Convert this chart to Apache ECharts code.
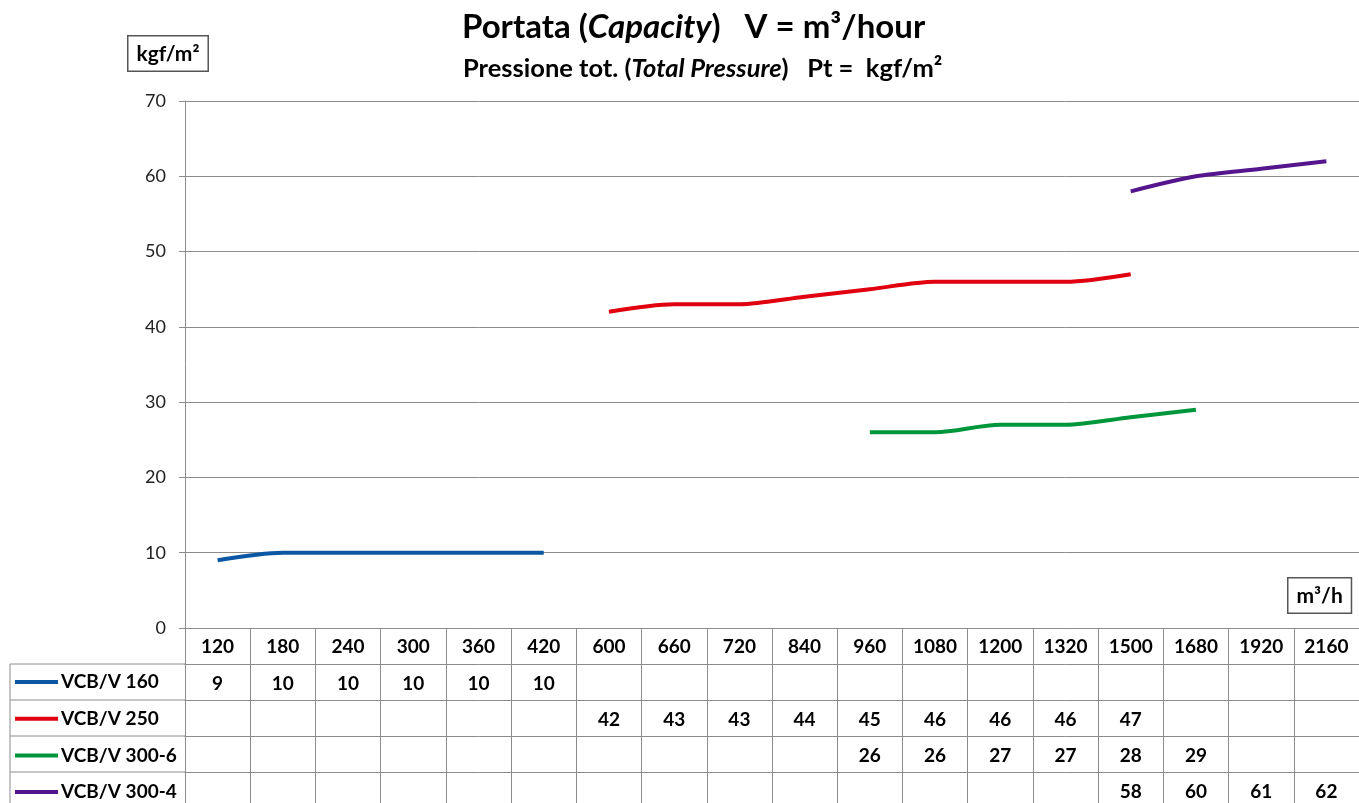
<!DOCTYPE html>
<html>
<head>
<meta charset="utf-8">
<script src="https://cdn.jsdelivr.net/npm/echarts@6/dist/echarts.min.js"></script>
<style>html,body{margin:0;padding:0;background:#fff}#c{width:1359px;height:803px}</style>
</head>
<body>
<div id="c"></div>
<script>
const categories = ['120','180','240','300','360','420','600','660','720','840','960','1080','1200','1320','1500','1680','1920','2160'];
const seriesNames = ['VCB/V 160','VCB/V 250','VCB/V 300-6','VCB/V 300-4'];
const vcb160  = [9,10,10,10,10,10,null,null,null,null,null,null,null,null,null,null,null,null];
const vcb250  = [null,null,null,null,null,null,42,43,43,44,45,46,46,46,47,null,null,null];
const vcb3006 = [null,null,null,null,null,null,null,null,null,null,26,26,27,27,28,29,null,null];
const vcb3004 = [null,null,null,null,null,null,null,null,null,null,null,null,null,null,58,60,61,62];
const yTicks = { min: 0, max: 70, interval: 10 };
const colors = ['#0b57a4','#e0000f','#00963c','#55158c'];
const rows = [vcb160, vcb250, vcb3006, vcb3004];

const FONT = 'Lato';
const GRID_LEFT = 185, GRID_TOP = 101, GRID_BOTTOM = 175, GRID_W = 1182;
const ROW_H = 36;
const GRAY = '#8c8c8c';

const xAxes = [{
  type: 'category', data: categories, boundaryGap: true, position: 'bottom', gridIndex: 0,
  axisLine: { show: true, lineStyle: { color: GRAY, width: 1 } },
  axisTick: { show: true, length: ROW_H, interval: 0, lineStyle: { color: GRAY, width: 1 } },
  axisLabel: { interval: 0, margin: 9, fontFamily: FONT, fontWeight: 'bold', fontSize: 19, color: '#000' },
  splitLine: { show: false }
}];
rows.forEach((r, k) => {
  xAxes.push({
    type: 'category', data: categories, boundaryGap: true, position: 'bottom', gridIndex: 0,
    offset: ROW_H * (k + 1),
    axisLine: { show: true, lineStyle: { color: GRAY, width: 1 } },
    axisTick: { show: true, length: ROW_H, interval: 0, lineStyle: { color: GRAY, width: 1 } },
    axisLabel: { interval: 0, margin: 10, fontFamily: FONT, fontWeight: 'bold', fontSize: 19, color: '#000',
      formatter: (v, i) => (r[i] == null ? '' : String(r[i])) },
    splitLine: { show: false }
  });
});

const chart = echarts.init(document.getElementById('c'), null, { renderer: 'canvas' });
chart.setOption({
  animation: false,
  backgroundColor: '#fff',
  color: colors,
  title: [{
    left: 457, top: 6,
    text: '{b|Portata (}{bi|Capacity}{b|)   V = m³/hour}',
    textStyle: { rich: {
      b: { fontFamily: FONT, fontWeight: 'bold', fontSize: 33, color: '#000' },
      bi: { fontFamily: FONT, fontWeight: 'bold', fontStyle: 'italic', fontSize: 33, color: '#000' }
    } }
  }, {
    left: 458, top: 51,
    text: '{b|Pressione tot. (}{bi|Total Pressure}{b|)   Pt =  kgf/m²}',
    textStyle: { rich: {
      b: { fontFamily: FONT, fontWeight: 'bold', fontSize: 25.5, color: '#000' },
      bi: { fontFamily: FONT, fontWeight: 'bold', fontStyle: 'italic', fontSize: 25.5, color: '#000' }
    } }
  }],
  legend: {
    orient: 'vertical', left: 15, top: 672, itemGap: 16.7, padding: 0, height: 140,
    icon: 'rect', itemWidth: 43, itemHeight: 4,
    data: seriesNames,
    textStyle: { fontFamily: FONT, fontWeight: 'bold', fontSize: 19, color: '#000', lineHeight: 20, padding: [0,0,0,-2] },
    selectedMode: false
  },
  grid: { left: GRID_LEFT, top: GRID_TOP, bottom: GRID_BOTTOM, width: GRID_W, containLabel: false },
  xAxis: xAxes,
  yAxis: {
    type: 'value', min: yTicks.min, max: yTicks.max, interval: yTicks.interval,
    axisLine: { show: true, lineStyle: { color: GRAY, width: 1 } },
    axisTick: { show: true, length: 6, lineStyle: { color: GRAY } },
    axisLabel: { margin: 19, fontFamily: FONT, fontSize: 18, color: '#222' },
    splitLine: { show: true, lineStyle: { color: GRAY, width: 1 } }
  },
  series: rows.map((r, k) => ({
    name: seriesNames[k], type: 'line', data: r, xAxisIndex: 0,
    smooth: 0.3, showSymbol: false, connectNulls: false,
    lineStyle: { width: 4, color: colors[k] }, itemStyle: { color: colors[k] }
  })),
  graphic: [
    { type: 'line', shape: { x1: 10, y1: 664, x2: GRID_LEFT, y2: 664 }, style: { stroke: GRAY, lineWidth: 1 } },
    { type: 'line', shape: { x1: 10, y1: 700, x2: GRID_LEFT, y2: 700 }, style: { stroke: GRAY, lineWidth: 1 } },
    { type: 'line', shape: { x1: 10, y1: 736, x2: GRID_LEFT, y2: 736 }, style: { stroke: GRAY, lineWidth: 1 } },
    { type: 'line', shape: { x1: 10, y1: 772, x2: GRID_LEFT, y2: 772 }, style: { stroke: GRAY, lineWidth: 1 } },
    { type: 'line', shape: { x1: 10, y1: 664, x2: 10, y2: 803 }, style: { stroke: GRAY, lineWidth: 1 } },
    { type: 'text', left: 127, top: 35, style: { text: 'kgf/m²', font: 'bold 21px Lato', fill: '#000',
      backgroundColor: '#fff', borderColor: '#555', borderWidth: 1.5, padding: [7, 8, 6, 8] } },
    { type: 'text', left: 1287, top: 577, style: { text: 'm³/h', font: 'bold 21px Lato', fill: '#000',
      backgroundColor: '#fff', borderColor: '#555', borderWidth: 1.5, padding: [7, 8, 6, 8] } }
  ]
});
</script>
</body>
</html>
